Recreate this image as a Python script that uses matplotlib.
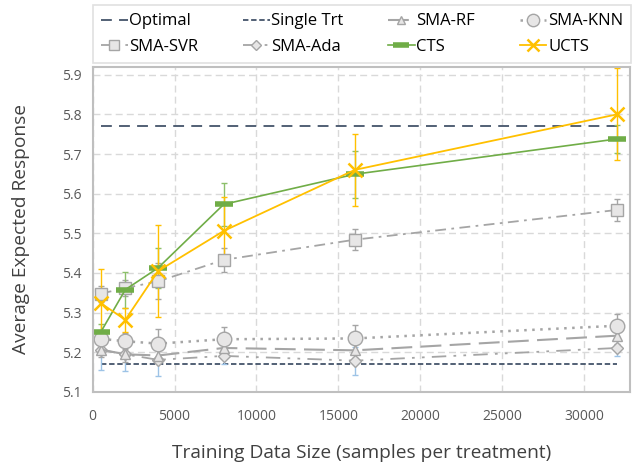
import matplotlib.pyplot as plt
import numpy as np

# data
x = [500, 2000, 4000, 8000, 16000, 32000]
optimal = [5.77] * 6
single_trt = [5.17] * 6
sma_rf = [5.207, 5.195, 5.192, 5.211, 5.205, 5.242]
sma_rf_err = [0.02, 0.02, 0.02, 0.02, 0.02, 0.02]
sma_knn = [5.234, 5.228, 5.222, 5.233, 5.235, 5.267]
sma_knn_err = [0.02, 0.02, 0.036, 0.03, 0.035, 0.03]
sma_svr = [5.348, 5.362, 5.379, 5.433, 5.484, 5.559]
sma_svr_err = [0.02, 0.02, 0.045, 0.03, 0.027, 0.028]
sma_ada = [5.206, 5.195, 5.181, 5.191, 5.179, 5.211]
sma_ada_err = [0.05, 0.043, 0.04, 0.02, 0.035, 0.02]
cts = [5.251, 5.358, 5.413, 5.573, 5.649, 5.738]
cts_err = [0.02, 0.045, 0.05, 0.054, 0.059, 0.035]
ucts = [5.324, 5.282, 5.405, 5.506, 5.660, 5.800]
ucts_err = [0.086, 0.03, 0.117, 0.086, 0.09, 0.116]

plt.rcParams['font.family'] = ['Open Sans', 'DejaVu Sans']

navy = '#44546A'
grey = '#A5A5A5'
face = '#E7E6E6'
green = '#70AD47'
gold = '#FFC000'

fig = plt.figure(figsize=(6.34, 4.68), dpi=100)
ax = fig.add_axes([0.146, 0.1624, 0.848, 0.695])

h_opt, = ax.plot(x, optimal, color=navy, lw=1.3, dashes=(6, 4), label='Optimal')
h_st, = ax.plot(x, single_trt, color=navy, lw=1.3, dashes=(3, 1.5), label='Single Trt')

# error bars first, lines and markers on top
ax.errorbar(x, sma_ada, yerr=sma_ada_err, fmt='none', ecolor='#9DC3E6', elinewidth=1, capsize=2.5)
ax.errorbar(x, sma_rf, yerr=sma_rf_err, fmt='none', ecolor=grey, elinewidth=1, capsize=2.5)
ax.errorbar(x, sma_knn, yerr=sma_knn_err, fmt='none', ecolor=grey, elinewidth=1, capsize=2.5)
ax.errorbar(x, sma_svr, yerr=sma_svr_err, fmt='none', ecolor=grey, elinewidth=1, capsize=2.5)
ax.errorbar(x, cts, yerr=cts_err, fmt='none', ecolor='#8CBF6A', elinewidth=1, capsize=2.5)
ax.errorbar(x, ucts, yerr=ucts_err, fmt='none', ecolor=gold, elinewidth=1, capsize=2.5)

h_ada, = ax.plot(x, sma_ada, color=grey, lw=1.3, dashes=(8, 4, 1.5, 4, 1.5, 4),
                 marker='D', ms=6.5, mfc=face, mec=grey, label='SMA-Ada')
h_rf, = ax.plot(x, sma_rf, color=grey, lw=1.5, dashes=(10, 4),
                marker='^', ms=7, mfc=face, mec=grey, label='SMA-RF')
h_knn, = ax.plot(x, sma_knn, color=grey, lw=1.8, dashes=(1, 2.2),
                 marker='o', ms=10.5, mfc=face, mec=grey, label='SMA-KNN')
h_svr, = ax.plot(x, sma_svr, color=grey, lw=1.3, dashes=(6, 3, 1.5, 3),
                 marker='s', ms=9, mfc=face, mec=grey, label='SMA-SVR')
h_cts, = ax.plot(x, cts, color=green, lw=1.2, marker='_', ms=13, mew=4, label='CTS')
h_ucts, = ax.plot(x, ucts, color=gold, lw=1.3, marker='x', ms=10, mew=1.8, label='UCTS')

ax.set_xlim(0, 32800)
ax.set_ylim(5.1, 5.92)
ax.set_xticks(np.arange(0, 30001, 5000))
ax.set_yticks(np.arange(5.1, 5.91, 0.1))
ax.set_yticklabels([f'{v:.1f}' for v in np.arange(5.1, 5.91, 0.1)])
ax.grid(True, color='#D9D9D9', ls=(0, (5, 3)), lw=1)
ax.set_axisbelow(True)
for s in ax.spines.values():
    s.set_color('#BFBFBF')
    s.set_linewidth(1.5)
ax.tick_params(length=0, labelsize=10, colors='#595959', pad=8)
ax.tick_params(axis='x', pad=12)
ax.set_xlabel('Training Data Size (samples per treatment)', fontsize=13.8, color='#404040', labelpad=15)
ax.set_ylabel('Average Expected Response', fontsize=13.8, color='#404040', labelpad=23)

handles = [h_opt, h_svr, h_st, h_ada, h_rf, h_cts, h_knn, h_ucts]
labels = ['Optimal', 'SMA-SVR', 'Single Trt', 'SMA-Ada', 'SMA-RF', 'CTS', 'SMA-KNN', 'UCTS']
leg = fig.legend(handles, labels, ncol=4, loc='upper left', bbox_to_anchor=(0.146, 0.872, 0.85, 0.117),
                 mode='expand', fontsize=12, frameon=True, fancybox=False, handlelength=1.6,
                 handletextpad=0.1, borderaxespad=0, borderpad=0.5, labelspacing=0.55, markerscale=0.85)
leg.get_frame().set_edgecolor('#D9D9D9')
leg.get_frame().set_linewidth(1.2)

fig.savefig('out.png', dpi=100)
